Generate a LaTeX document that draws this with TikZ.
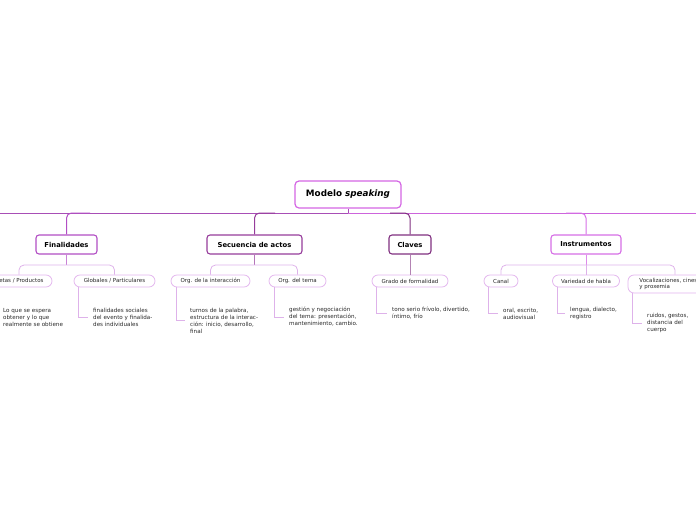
\documentclass[tikz,border=0pt]{standalone}
\usepackage{fontspec}
\setmainfont{DejaVu Sans}
\definecolor{rootc}{RGB}{212,102,228}
\definecolor{finc}{RGB}{178,78,196}
\definecolor{secc}{RGB}{150,60,155}
\definecolor{clac}{RGB}{128,48,128}
\definecolor{insc}{RGB}{214,110,230}
\definecolor{barl}{RGB}{168,78,182}
\definecolor{barr}{RGB}{205,100,220}
\definecolor{subc}{RGB}{226,180,238}
\definecolor{subl}{RGB}{222,178,234}
\definecolor{txt}{RGB}{40,40,40}
\tikzset{
  rootbox/.style={draw=rootc, rounded corners=4pt, line width=1.2pt, fill=white,
    minimum width=106pt, minimum height=27pt, inner sep=0pt,
    font=\fontsize{8.8}{10}\selectfont\bfseries},
  mainbox/.style={rounded corners=3pt, line width=1.1pt, fill=white,
    minimum height=19pt, inner sep=0pt, font=\fontsize{6.8}{8}\selectfont\bfseries},
  subbox/.style={draw=subc, rounded corners=6pt, line width=0.75pt, fill=white,
    minimum height=12pt, inner sep=0pt, text=txt, font=\fontsize{5.5}{6.8}\selectfont},
  leaf/.style={anchor=west, align=left, inner xsep=5pt, inner ysep=0pt, text=txt,
    font=\fontsize{5.6}{7}\selectfont},
  mainline/.style={line width=1pt, rounded corners=5pt},
  subline/.style={line width=0.8pt, draw=subl, rounded corners=5pt},
  leafline/.style={line width=0.7pt, draw=subl},
}
\begin{document}
\begin{tikzpicture}[x=1pt,y=-1pt]
\useasboundingbox (0,0) rectangle (696,520);
% nodes
\node[rootbox] (root) at (348,194.5) {Modelo \textit{speaking}};
\node[mainbox, draw=finc, minimum width=61pt] (fin) at (66.5,244.5) {Finalidades};
\node[mainbox, draw=secc, minimum width=95pt] (sec) at (254.5,244.5) {Secuencia de actos};
\node[mainbox, draw=clac, minimum width=42pt] (cla) at (410,244.5) {Claves};
\node[mainbox, draw=insc, minimum width=70pt] (ins) at (586,244.5) {Instrumentos};
% sub nodes
\node[subbox, minimum width=66pt] (met) at (19,281) {Metas / Productos};
\node[subbox, minimum width=81pt] (glo) at (114.5,281) {Globales / Particulares};
\node[subbox, minimum width=79pt] (oin) at (210.5,281) {Org. de la interacción};
\node[subbox, minimum width=57pt] (ote) at (297.5,281) {Org. del tema};
\node[subbox, minimum width=76pt] (gra) at (410,281) {Grado de formalidad};
\node[subbox, minimum width=34pt] (can) at (501,281) {Canal};
\node[subbox, minimum width=67pt] (var) at (586,281) {Variedad de habla};
\node[subbox, minimum width=94pt, minimum height=18pt, align=left] (voc) at (675,284)
  {Vocalizaciones, cinestesia\\y proxemia};
% leaves
\node[leaf] (lmet) at (-2,317) {Lo que se espera\\obtener y lo que\\realmente se obtiene};
\node[leaf] (lglo) at (88,317) {finalidades sociales\\del evento y finalida-\\des individuales};
\node[leaf] (loin) at (185,320.5) {turnos de la palabra,\\estructura de la interac-\\ción: inicio, desarrollo,\\final};
\node[leaf] (lote) at (284,317) {gestión y negociación\\del tema: presentación,\\mantenimiento, cambio.};
\node[leaf] (lgra) at (387,313.5) {tono serio frívolo, divertido,\\íntimo, frío};
\node[leaf] (lcan) at (498,313.5) {oral, escrito,\\audiovisual};
\node[leaf] (lvar) at (565,313.5) {lengua, dialecto,\\registro};
\node[leaf] (lvoc) at (642,323) {ruidos, gestos,\\distancia del\\cuerpo};
% main bar
\coordinate (bar) at (348,213);
\coordinate (leftend) at (0,213);
\coordinate (rightend) at (696,213);
\draw[line width=1pt, draw=barl] (leftend) -- (bar);
\draw[line width=1pt, draw=barr] (bar) -- (rightend);
\draw[line width=1pt, draw=barl] (root.south) -- (bar);
\draw[mainline, draw=finc] (fin.north) |- (90,213);
\draw[mainline, draw=secc] (sec.north) |- (275,213);
\draw[mainline, draw=clac] (cla.north) |- (390,213);
\draw[mainline, draw=insc] (ins.north) |- (566,213);
% sub connectors
\draw[line width=0.9pt, draw=finc!70] (fin.south) -- (fin.south |- 0,265);
\draw[subline] (met.north) |- (67,265) -| (glo.north);
\draw[line width=0.9pt, draw=secc!70] (sec.south) -- (sec.south |- 0,265);
\draw[subline] (oin.north) |- (254.5,265) -| (ote.north);
\draw[line width=0.9pt, draw=clac!60] (cla.south) -- (gra.north);
\draw[line width=0.9pt, draw=insc!80] (ins.south) -- (ins.south |- 0,265);
\draw[subline] (can.north) |- (586,265) -| (voc.north);
\draw[subline] (var.north) -- (var.north |- 0,265);
% leaf connectors
\draw[leafline] ([xshift=5pt]glo.south west) |- (lglo.west);
\draw[leafline] ([xshift=6pt]oin.south west) |- (loin.west);
\draw[leafline] ([xshift=6pt]ote.south west) |- (lote.west);
\draw[leafline] ([xshift=5pt]gra.south west) |- (lgra.west);
\draw[leafline] ([xshift=5pt]can.south west) |- (lcan.west);
\draw[leafline] ([xshift=5pt]var.south west) |- (lvar.west);
\draw[leafline] ([xshift=5pt]voc.south west) |- (lvoc.west);
\end{tikzpicture}
\end{document}
